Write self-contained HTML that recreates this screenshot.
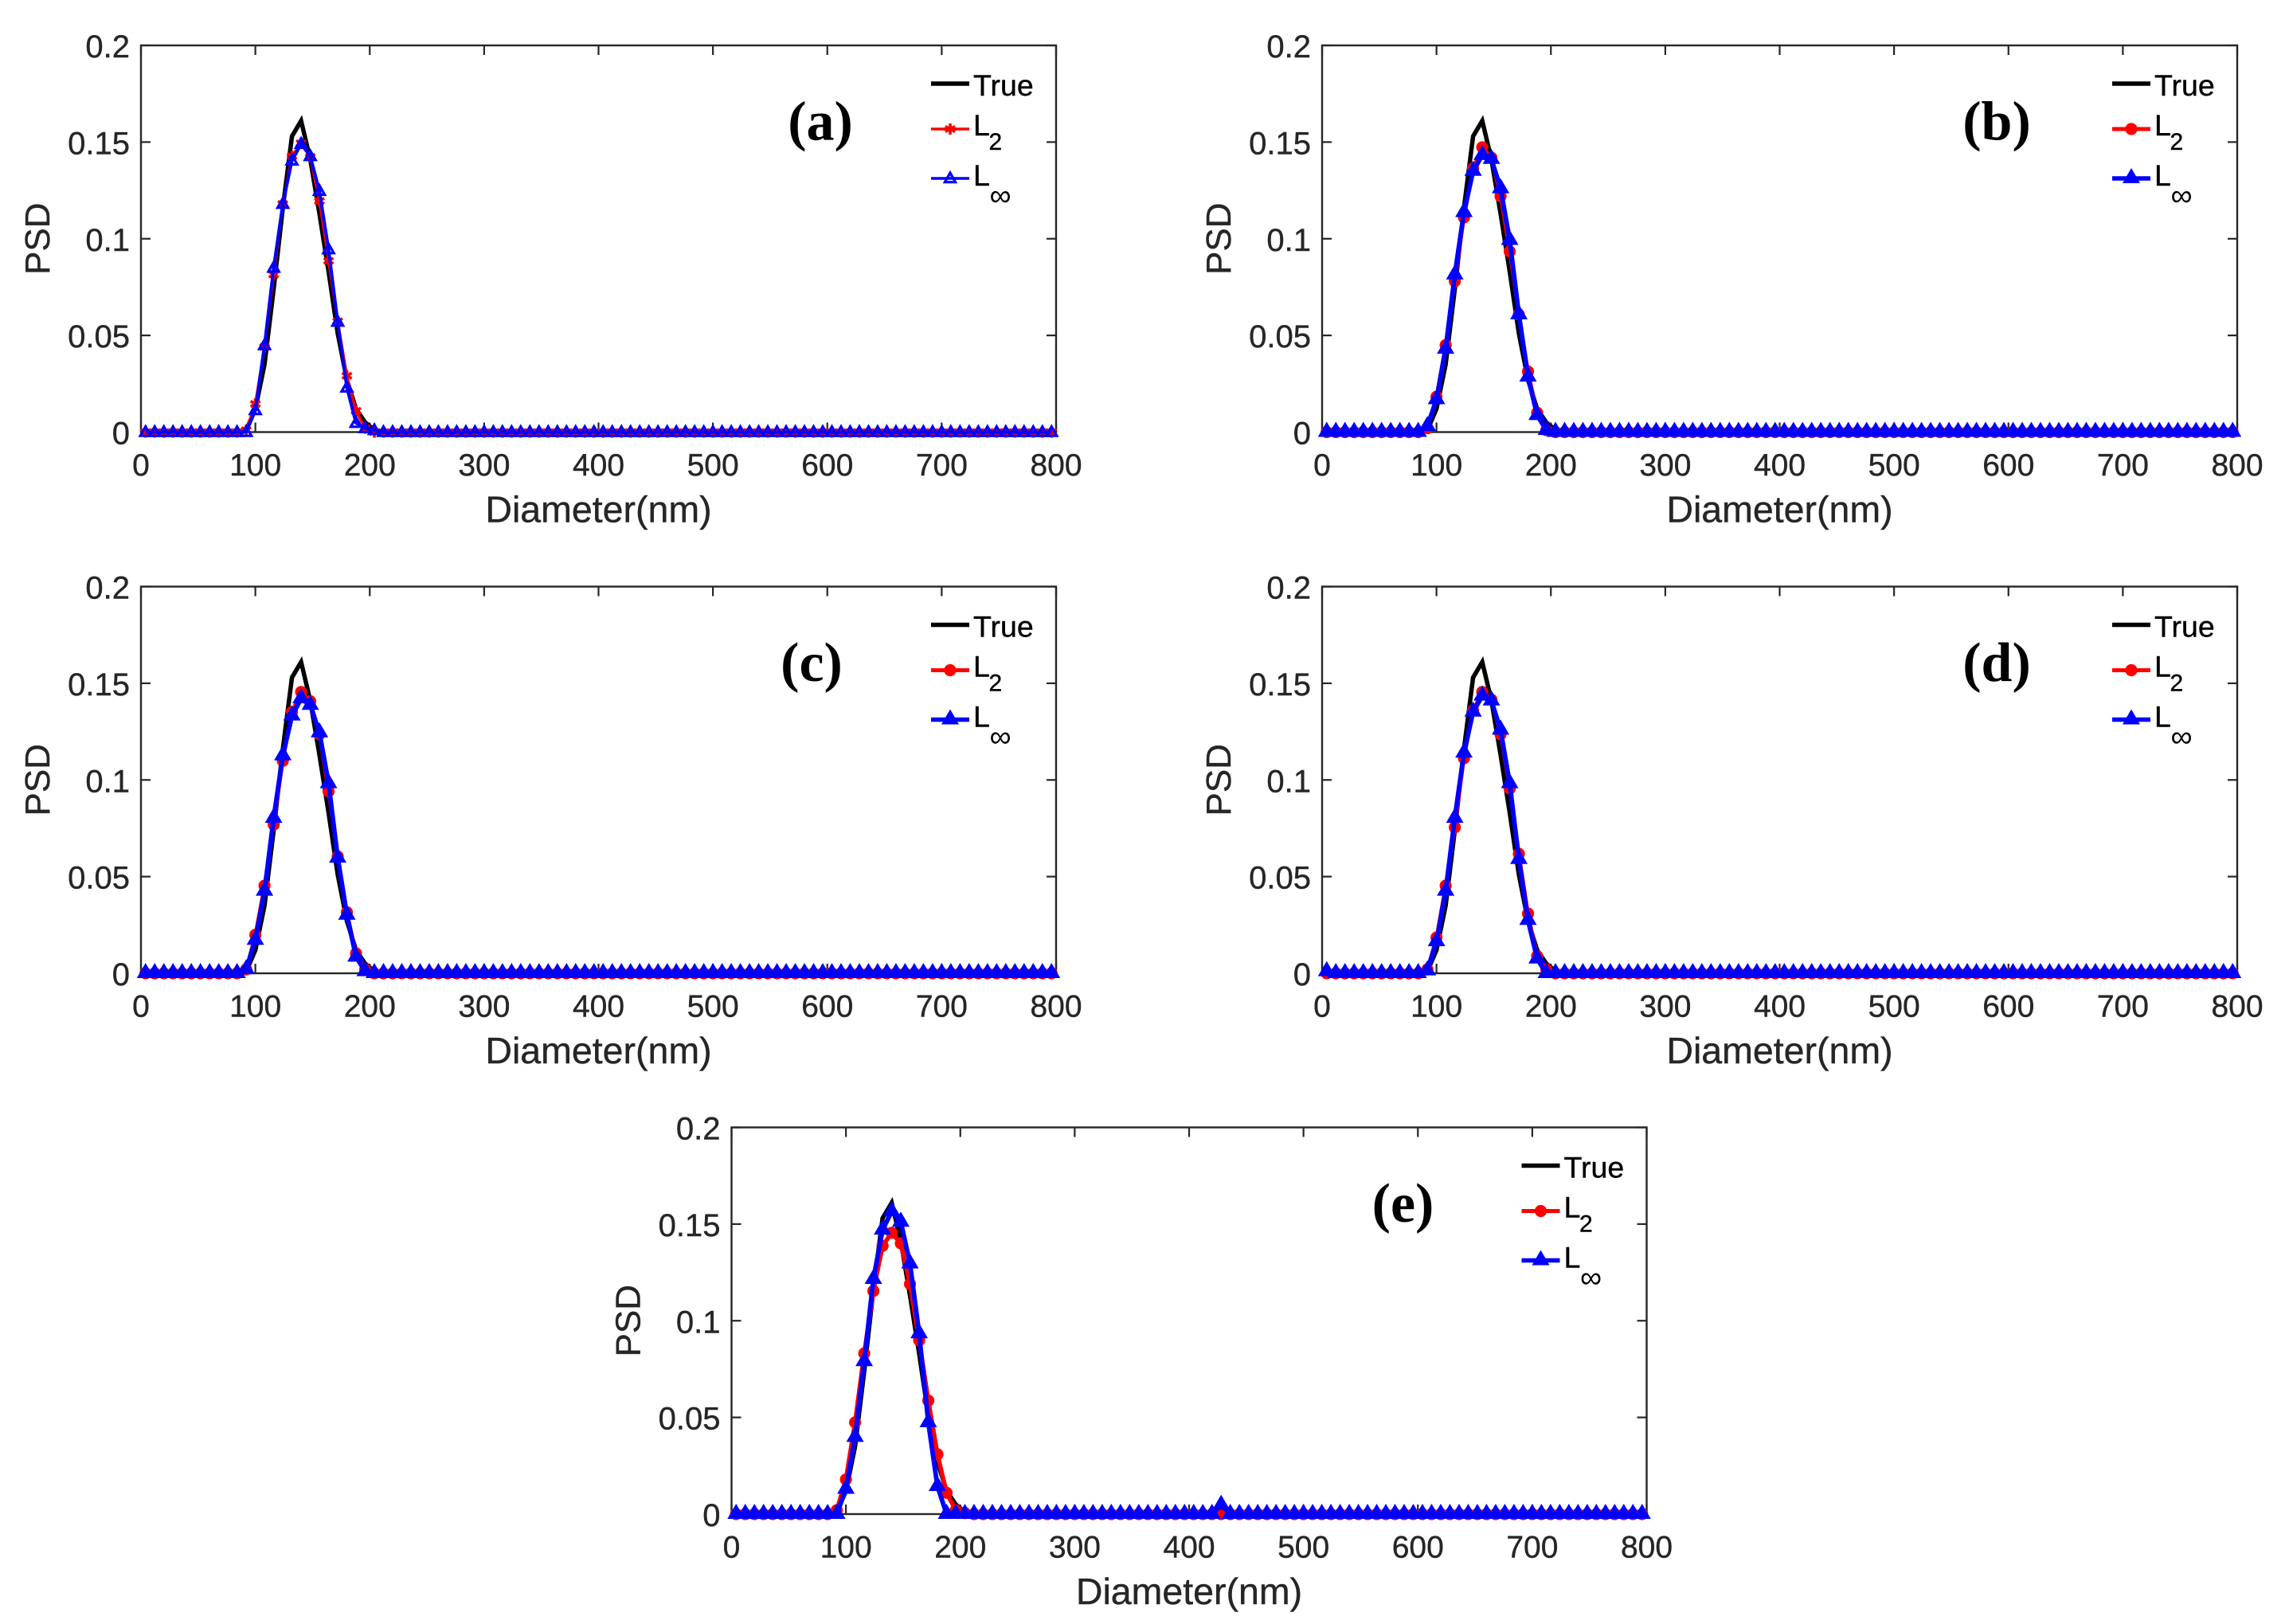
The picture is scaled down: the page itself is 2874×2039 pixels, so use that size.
<!DOCTYPE html>
<html>
<head>
<meta charset="utf-8">
<title>PSD reconstruction panels</title>
<style>
html,body{margin:0;padding:0;background:#fff;}
svg{display:block;}
text{font-family:"Liberation Sans",Arial,sans-serif;}
</style>
</head>
<body>
<svg id="figure" xmlns="http://www.w3.org/2000/svg" width="2874" height="2039" viewBox="0 0 2874 2039"></svg>
<script>
const diameters = [
4,12,20,28,36,44,52,60,68,76,84,
92,100,108,116,124,132,140,148,156,164,172,180,188,196,204,
212,220,228,236,244,252,260,268,276,284,292,300,308,316,324,332,340,348,356,364,372,380,388,396,404,
412,420,428,436,444,452,460,468,476,484,492,500,508,516,524,532,540,548,556,564,572,580,588,596,604,
612,620,628,636,644,652,660,668,676,684,692,700,708,716,724,732,740,748,756,764,772,780,788,796];

const trueValues = [
0,0,0,0,0,0,0,0,0,0,0,
0.001,0.012,0.035,0.074,0.116,0.153,0.161,0.141,0.113,0.083,0.051,0.027,0.012,0.005,0.001,
0,0,0,0,0,0,0,0,0,0,0,0,0,0,0,0,0,0,0,0,0,0,0,0,0,
0,0,0,0,0,0,0,0,0,0,0,0,0,0,0,0,0,0,0,0,0,0,0,0,0,
0,0,0,0,0,0,0,0,0,0,0,0,0,0,0,0,0,0,0,0,0,0,0,0];

const l2PanelA = [
0,0,0,0,0,0,0,0,0,0,0,
0.001,0.0146,0.044,0.0815,0.118,0.1427,0.1494,0.1423,0.1195,0.0886,0.0573,0.0291,0.011,0.002,0,
0,0,0,0,0,0,0,0,0,0,0,0,0,0,0,0,0,0,0,0,0,0,0,0,0,
0,0,0,0,0,0,0,0,0,0,0,0,0,0,0,0,0,0,0,0,0,0,0,0,0,
0,0,0,0,0,0,0,0,0,0,0,0,0,0,0,0,0,0,0,0,0,0,0,0];
const linfPanelA = [
0,0,0,0,0,0,0,0,0,0,0,
0,0.0113,0.0449,0.085,0.118,0.1404,0.149,0.1427,0.1247,0.0945,0.057,0.023,0.0047,0.002,0.001,
0,0,0,0,0,0,0,0,0,0,0,0,0,0,0,0,0,0,0,0,0,0,0,0,0,
0,0,0,0,0,0,0,0,0,0,0,0,0,0,0,0,0,0,0,0,0,0,0,0,0,
0,0,0,0,0,0,0,0,0,0,0,0,0,0,0,0,0,0,0,0,0,0,0,0];

const l2PanelB = [
0,0,0,0,0,0,0,0,0,0,0,
0.002,0.0183,0.045,0.078,0.111,0.1364,0.1473,0.1419,0.122,0.0934,0.0608,0.0313,0.01,0.001,0,
0,0,0,0,0,0,0,0,0,0,0,0,0,0,0,0,0,0,0,0,0,0,0,0,0,
0,0,0,0,0,0,0,0,0,0,0,0,0,0,0,0,0,0,0,0,0,0,0,0,0,
0,0,0,0,0,0,0,0,0,0,0,0,0,0,0,0,0,0,0,0,0,0,0,0];
const linfPanelB = [
0,0,0,0,0,0,0,0,0,0,0,
0.003,0.0169,0.043,0.0814,0.1137,0.135,0.1432,0.1412,0.126,0.0993,0.0608,0.0286,0.0087,0.001,0,
0,0,0,0,0,0,0,0,0,0,0,0,0,0,0,0,0,0,0,0,0,0,0,0,0,
0,0,0,0,0,0,0,0,0,0,0,0,0,0,0,0,0,0,0,0,0,0,0,0,0,
0,0,0,0,0,0,0,0,0,0,0,0,0,0,0,0,0,0,0,0,0,0,0,0];

const l2PanelC = [
0,0,0,0,0,0,0,0,0,0,0,
0.002,0.0199,0.0453,0.0769,0.1099,0.1352,0.1455,0.1407,0.1236,0.0941,0.0604,0.0316,0.0103,0.002,0,
0,0,0,0,0,0,0,0,0,0,0,0,0,0,0,0,0,0,0,0,0,0,0,0,0,
0,0,0,0,0,0,0,0,0,0,0,0,0,0,0,0,0,0,0,0,0,0,0,0,0,
0,0,0,0,0,0,0,0,0,0,0,0,0,0,0,0,0,0,0,0,0,0,0,0];
const linfPanelC = [
0,0,0,0,0,0,0,0,0,0,0,
0.002,0.0172,0.0426,0.0803,0.1126,0.1332,0.1421,0.1387,0.1245,0.0982,0.0597,0.0302,0.0085,0.001,0,
0,0,0,0,0,0,0,0,0,0,0,0,0,0,0,0,0,0,0,0,0,0,0,0,0,
0,0,0,0,0,0,0,0,0,0,0,0,0,0,0,0,0,0,0,0,0,0,0,0,0,
0,0,0,0,0,0,0,0,0,0,0,0,0,0,0,0,0,0,0,0,0,0,0,0];

const l2PanelD = [
0,0,0,0,0,0,0,0,0,0,0,
0.002,0.0185,0.0453,0.0755,0.1112,0.136,0.1455,0.1415,0.1236,0.0955,0.0618,0.0309,0.0089,0.002,0,
0,0,0,0,0,0,0,0,0,0,0,0,0,0,0,0,0,0,0,0,0,0,0,0,0,
0,0,0,0,0,0,0,0,0,0,0,0,0,0,0,0,0,0,0,0,0,0,0,0,0,
0,0,0,0,0,0,0,0,0,0,0,0,0,0,0,0,0,0,0,0,0,0,0,0];
const linfPanelD = [
0.001,0,0,0,0,0,0,0,0,0,0,
0.0014,0.0165,0.0426,0.0803,0.114,0.1352,0.1435,0.141,0.1259,0.0982,0.059,0.0275,0.0075,0,0,
0,0,0,0,0,0,0,0,0,0,0,0,0,0,0,0,0,0,0,0,0,0,0,0,0,
0,0,0,0,0,0,0,0,0,0,0,0,0,0,0,0,0,0,0,0,0,0,0,0,0,
0,0,0,0,0,0,0,0,0,0,0,0,0,0,0,0,0,0,0,0,0,0,0,0];

const l2PanelE = [
0,0,0,0,0,0,0,0,0,0,0,
0.002,0.0179,0.0474,0.0831,0.1154,0.1387,0.1455,0.14,0.119,0.0899,0.0587,0.0309,0.011,0.002,0.0005,
0,0,0,0,0,0,0,0,0,0,0,0,0,0,0,0,0,0,0,0,0,0,0,0,0,
0,0,0,0,0,0,0,0,0,0,0,0,0,0,0,0,0,0,0,0,0,0,0,0,0,
0,0,0,0,0,0,0,0,0,0,0,0,0,0,0,0,0,0,0,0,0,0,0,0];
const linfPanelE = [
0,0,0,0,0,0,0,0,0,0,0,
0,0.013,0.0398,0.079,0.1215,0.147,0.1565,0.1511,0.1295,0.0934,0.0474,0.0144,0,0,0,
0,0,0,0,0,0,0,0,0,0,0,0,0,0,0,0,0,0,0,0,0,0,0,0,0,
0,0,0.0047,0,0,0,0,0,0,0,0,0,0,0,0,0,0,0,0,0,0,0,0,0,0,
0,0,0,0,0,0,0,0,0,0,0,0,0,0,0,0,0,0,0,0,0,0,0,0];

const xTickValues = [0,100,200,300,400,500,600,700,800];
const xTickLabels = ['0','100','200','300','400','500','600','700','800'];
const yTickValues = [0,0.05,0.1,0.15,0.2];
const yTickLabels = ['0','0.05','0.1','0.15','0.2'];

const panelIds = ['a','b','c','d','e'];
const panelLefts = [177,1660,177,1660,918.5];
const panelTops = [57,57,736.5,736.5,1415.5];
const panelTagOffsets = [853,847,842,847,843];
const panelL2 = [l2PanelA,l2PanelB,l2PanelC,l2PanelD,l2PanelE];
const panelLinf = [linfPanelA,linfPanelB,linfPanelC,linfPanelD,linfPanelE];

const PLOT_W = 1149;
const PLOT_H = 485.5;
const AXIS = '#262626';
const NS = 'http://www.w3.org/2000/svg';
const figure = document.getElementById('figure');

function mk(tag, attrs, parent, txt) {
  const el = document.createElementNS(NS, tag);
  for (const k in attrs) el.setAttribute(k, attrs[k]);
  if (txt !== undefined) el.textContent = txt;
  parent.appendChild(el);
  return el;
}

function starPath(x, y, r) {
  const d = r * 0.866, h = r * 0.5;
  return 'M' + x + ' ' + (y - r) + 'V' + (y + r) +
    'M' + (x - d) + ' ' + (y - h) + 'L' + (x + d) + ' ' + (y + h) +
    'M' + (x - d) + ' ' + (y + h) + 'L' + (x + d) + ' ' + (y - h);
}

function triPoints(x, y, halfW, up, down) {
  return x + ',' + (y - up) + ' ' + (x + halfW) + ',' + (y + down) + ' ' + (x - halfW) + ',' + (y + down);
}

function drawL2Marker(parent, id, x, y) {
  let m;
  if (id === 'a') {
    m = mk('path', {d: starPath(x, y, 7), fill: 'none', stroke: '#ff0000', 'stroke-width': 3.6}, parent);
  } else {
    m = mk('circle', {cx: x, cy: y, r: 7.6, fill: '#ff0000'}, parent);
  }
  
  
}

function drawLinfMarker(parent, id, x, y) {
  let m;
  if (id === 'a') {
    m = mk('polygon', {points: triPoints(x, y, 6.6, 7, 4.7), fill: 'none', stroke: '#0000ff', 'stroke-width': 3.2}, parent);
  } else {
    m = mk('polygon', {points: triPoints(x, y, 11, 13, 6), fill: '#0000ff'}, parent);
  }
  
  
}

function drawPanel(i) {
  const id = panelIds[i];
  const left = panelLefts[i], top = panelTops[i];
  const bottom = top + PLOT_H, right = left + PLOT_W;
  const xScale = v => left + v / 800 * PLOT_W;
  const yScale = v => bottom - v / 0.2 * PLOT_H;

  const g = mk('g', {}, figure);
  
  

  const box = mk('rect', {x: left, y: top, width: PLOT_W, height: PLOT_H, fill: 'none', stroke: AXIS, 'stroke-width': 2.4}, g);
  
  

  xTickValues.forEach((v, k) => {
    const x = xScale(v);
    const t1 = mk('line', {x1: x, x2: x, y1: bottom, y2: bottom - 12, stroke: AXIS, 'stroke-width': 2.2}, g);
    
    
    const t2 = mk('line', {x1: x, x2: x, y1: top, y2: top + 12, stroke: AXIS, 'stroke-width': 2.2}, g);
    
    
    const lab = mk('text', {x: x, y: bottom + 54.5, 'text-anchor': 'middle', 'font-size': 39, fill: AXIS, stroke: AXIS, 'stroke-width': 0.4}, g, xTickLabels[k]);
    
    
  });

  yTickValues.forEach((v, k) => {
    const y = yScale(v);
    const t1 = mk('line', {x1: left, x2: left + 12, y1: y, y2: y, stroke: AXIS, 'stroke-width': 2.2}, g);
    
    
    const t2 = mk('line', {x1: right, x2: right - 12, y1: y, y2: y, stroke: AXIS, 'stroke-width': 2.2}, g);
    
    
    const lab = mk('text', {x: left - 14, y: y + 15, 'text-anchor': 'end', 'font-size': 40, fill: AXIS, stroke: AXIS, 'stroke-width': 0.4}, g, yTickLabels[k]);
    
    
  });

  const xTitle = mk('text', {x: (left + right) / 2, y: bottom + 113, 'text-anchor': 'middle', 'font-size': 46.5, fill: AXIS, stroke: AXIS, 'stroke-width': 0.4}, g, 'Diameter(nm)');
  
  

  const yX = left - 115, yY = (top + bottom) / 2;
  const yTitle = mk('text', {x: yX, y: yY, 'text-anchor': 'middle', 'font-size': 44, fill: AXIS, stroke: AXIS, 'stroke-width': 0.4, transform: 'rotate(-90 ' + yX + ' ' + yY + ')'}, g, 'PSD');
  
  

  const toPath = vals => vals.map((v, k) => (k ? 'L' : 'M') + xScale(diameters[k]).toFixed(2) + ' ' + yScale(v).toFixed(2)).join('');
  const thin = id === 'a';

  const trueLine = mk('path', {d: toPath(trueValues), fill: 'none', stroke: '#000', 'stroke-width': 5.5, 'stroke-linejoin': 'miter'}, g);
  
  

  const l2Line = mk('path', {d: toPath(panelL2[i]), fill: 'none', stroke: '#ff0000', 'stroke-width': thin ? 3.4 : (id === 'e' ? 5.5 : 4.6)}, g);
  
  
  panelL2[i].forEach((v, k) => drawL2Marker(g, id, xScale(diameters[k]), yScale(v)));

  const linfLine = mk('path', {d: toPath(panelLinf[i]), fill: 'none', stroke: '#0000ff', 'stroke-width': thin ? 4 : 5.8}, g);
  
  
  panelLinf[i].forEach((v, k) => drawLinfMarker(g, id, xScale(diameters[k]), yScale(v)));

  const tag = mk('text', {x: left + panelTagOffsets[i], y: top + 118.5, 'text-anchor': 'middle', 'font-size': 70, 'font-weight': 'bold', fill: '#000', style: 'font-family:"Liberation Serif",serif'}, g, '(' + id + ')');
  
  

  const lg = mk('g', {}, g);
  
  
  const lx1 = left + 992, lx2 = left + 1040, lmx = left + 1016, tx = left + 1045;

  const lgTrue = mk('line', {x1: lx1, x2: lx2, y1: top + 48, y2: top + 48, stroke: '#000', 'stroke-width': 5.5}, lg);
  
  
  const lgTrueTxt = mk('text', {x: tx, y: top + 63, 'font-size': 37.5, fill: '#000', stroke: '#000', 'stroke-width': 0.4}, lg, 'True');
  
  

  const lgL2 = mk('line', {x1: lx1, x2: lx2, y1: top + 105, y2: top + 105, stroke: '#ff0000', 'stroke-width': thin ? 3.4 : 5}, lg);
  
  
  drawL2Marker(lg, id, lmx, top + 105);
  const lgL2Txt = mk('text', {x: tx, y: top + 113, 'font-size': 37.5, fill: '#000', stroke: '#000', 'stroke-width': 0.4}, lg, 'L');
  
  
  const lgL2Sub = mk('text', {x: tx + 19.5, y: top + 131, 'font-size': 30, fill: '#000', stroke: '#000', 'stroke-width': 0.4}, lg, '2');
  
  

  const lgLinf = mk('line', {x1: lx1, x2: lx2, y1: top + 167, y2: top + 167, stroke: '#0000ff', 'stroke-width': thin ? 3.6 : 5.6}, lg);
  
  
  drawLinfMarker(lg, id, lmx, top + 167);
  const lgLinfTxt = mk('text', {x: tx, y: top + 176, 'font-size': 37.5, fill: '#000', stroke: '#000', 'stroke-width': 0.4}, lg, 'L');
  
  
  const lgLinfSub = mk('text', {x: tx + 20.5, y: top + 201, 'font-size': 38, fill: '#000'}, lg, '∞');
  
  
}

panelIds.forEach((id, i) => drawPanel(i));
</script>
</body>
</html>
